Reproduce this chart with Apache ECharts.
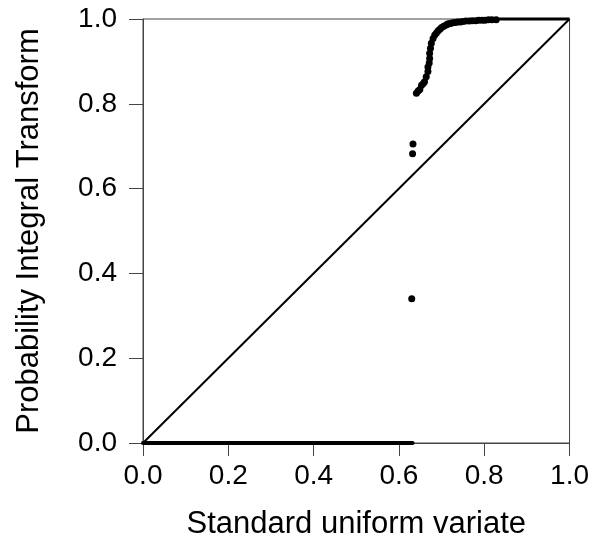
<!DOCTYPE html>
<html>
<head>
<meta charset="utf-8">
<script src="https://cdn.jsdelivr.net/npm/echarts@6/dist/echarts.min.js"></script>
<style>
  html, body { margin: 0; padding: 0; background: #fff; }
  #chart { width: 592px; height: 545px; }
</style>
</head>
<body>
<div id="chart"></div>
<script>
// tick labels
var xTicks = [0, 0.2, 0.4, 0.6, 0.8, 1.0];
var yTicks = [0, 0.2, 0.4, 0.6, 0.8, 1.0];

// run of PIT values stuck at 0 (drawn as a thick band in the original)
var zeroRun = [[0, 0], [0.632, 0]];
// run of PIT values stuck at 1
var oneRun = [[0.828, 1], [1, 1]];

// isolated points and the rising curve
var pitX = [0.630, 0.632, 0.633, 0.641, 0.645, 0.649, 0.653, 0.657, 0.660, 0.664, 0.668, 0.668, 0.671, 0.672, 0.672,
            0.674, 0.676, 0.680, 0.684, 0.688, 0.692, 0.696, 0.700, 0.705, 0.711, 0.714, 0.718, 0.722, 0.727, 0.732,
            0.738, 0.744, 0.750, 0.757, 0.765, 0.772, 0.780, 0.787, 0.795, 0.802, 0.810, 0.818, 0.828];
var pitY = [0.340, 0.682, 0.705, 0.825, 0.830, 0.834, 0.844, 0.848, 0.852, 0.864, 0.876, 0.887, 0.896, 0.907, 0.919,
            0.931, 0.943, 0.954, 0.962, 0.967, 0.972, 0.976, 0.980, 0.983, 0.986, 0.988, 0.989, 0.990, 0.991, 0.992,
            0.993, 0.993, 0.994, 0.995, 0.995, 0.996, 0.996, 0.997, 0.997, 0.997, 0.998, 0.998, 0.998];

// reference line y = x
var diag = [[0, 0], [1, 1]];

var pts = [];
for (var i = 0; i < pitX.length; i++) {
  pts.push([pitX[i], pitY[i]]);
}

var font = 'Liberation Sans, Arial, sans-serif';
var boxColor = '#444';

var chart = echarts.init(document.getElementById('chart'));
var option = {
  animation: false,
  grid: {
    left: 143, right: 22, top: 19, bottom: 102,
    show: true, borderColor: boxColor, borderWidth: 1
  },
  xAxis: {
    type: 'value', min: 0, max: 1, interval: 0.2,
    name: 'Standard uniform variate',
    nameLocation: 'middle', nameGap: 66,
    nameTextStyle: { fontFamily: font, fontSize: 31, color: '#000' },
    axisLine: { show: true, lineStyle: { color: boxColor, width: 1 } },
    axisTick: { show: true, inside: false, length: 13, lineStyle: { color: boxColor } },
    axisLabel: {
      margin: 19, fontFamily: font, fontSize: 28, color: '#000',
      formatter: function (v) { return v.toFixed(1); }
    },
    splitLine: { show: false }
  },
  yAxis: {
    type: 'value', min: 0, max: 1, interval: 0.2,
    name: 'Probability Integral Transform',
    nameLocation: 'middle', nameGap: 98,
    nameTextStyle: { fontFamily: font, fontSize: 31, color: '#000' },
    axisLine: { show: true, lineStyle: { color: boxColor, width: 1 } },
    axisTick: { show: true, inside: false, length: 14, lineStyle: { color: boxColor } },
    axisLabel: {
      margin: 26, fontFamily: font, fontSize: 28, color: '#000',
      formatter: function (v) { return v.toFixed(1); }
    },
    splitLine: { show: false }
  },
  series: [
    {
      type: 'line', data: diag, showSymbol: false, clip: false,
      lineStyle: { color: '#000', width: 2 }
    },
    {
      type: 'line', data: zeroRun, showSymbol: false, clip: false,
      lineStyle: { color: '#000', width: 4, cap: 'round' }
    },
    {
      type: 'line', data: oneRun, showSymbol: false, clip: false,
      lineStyle: { color: '#000', width: 3 }
    },
    {
      type: 'scatter', data: pts, symbol: 'circle', symbolSize: 7, clip: false,
      itemStyle: { color: '#000', opacity: 1 }
    }
  ]
};
chart.setOption(option);
</script>
</body>
</html>
